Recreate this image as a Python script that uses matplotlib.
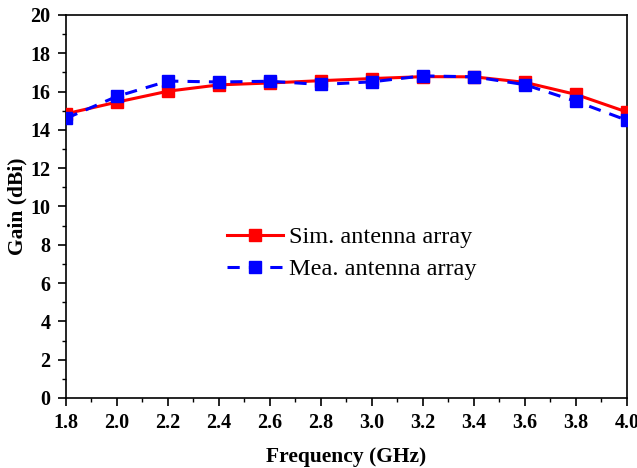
import matplotlib
matplotlib.use("Agg")
import matplotlib.pyplot as plt
from matplotlib.ticker import MultipleLocator

plt.rcParams['font.family'] = ['Liberation Serif', 'DejaVu Serif']

# Data
freq = [1.8, 2.0, 2.2, 2.4, 2.6, 2.8, 3.0, 3.2, 3.4, 3.6, 3.8, 4.0]
gain_sim = [14.84, 15.45, 16.02, 16.35, 16.45, 16.57, 16.68, 16.78, 16.77, 16.48, 15.85, 14.93]
gain_mea = [14.6, 15.75, 16.55, 16.5, 16.54, 16.37, 16.51, 16.82, 16.77, 16.36, 15.49, 14.5]

fig = plt.figure(figsize=(6.37, 4.68), dpi=100)
ax = fig.add_axes([0.1036, 0.1496, 0.8807, 0.8184])

ax.plot(freq, gain_sim, color="#ff0000", linewidth=2.2, marker="s", markersize=8.5,
        label="Sim. antenna array", zorder=3)
ax.plot(freq, gain_mea, color="#0000ff", linewidth=2.2, linestyle=(0, (4, 3)), marker="s",
        markersize=8.5, label="Mea. antenna array", zorder=4)

ax.set_xlim(1.8, 4.0)
ax.set_ylim(0, 20)
ax.xaxis.set_major_locator(MultipleLocator(0.2))
ax.xaxis.set_minor_locator(MultipleLocator(0.1))
ax.yaxis.set_major_locator(MultipleLocator(2))
ax.yaxis.set_minor_locator(MultipleLocator(1))
ax.tick_params(which="major", direction="out", length=6, width=1.2, labelsize=14, pad=5)
ax.tick_params(which="minor", direction="out", length=3, width=1)
ax.set_xticks(freq)
ax.set_xticklabels(["%.1f" % v for v in freq], fontweight="bold", fontsize=14.5)
ax.set_yticks(range(0, 21, 2))
ax.set_yticklabels([str(v) for v in range(0, 21, 2)], fontweight="bold", fontsize=14.5)
for sp in ax.spines.values():
    sp.set_linewidth(1.2)

ax.set_xlabel("Frequency (GHz)", fontsize=15.5, fontweight="bold", labelpad=10)
ax.set_ylabel("Gain (dBi)", fontsize=15.5, fontweight="bold", labelpad=2)

ax.legend(loc="upper left", bbox_to_anchor=(0.356, 0.517), bbox_transform=fig.transFigure,
          frameon=False, fontsize=17.5, handlelength=2.3, handletextpad=0.25,
          labelspacing=0.42, borderpad=0, borderaxespad=0)

fig.savefig("out.png", dpi=100)
